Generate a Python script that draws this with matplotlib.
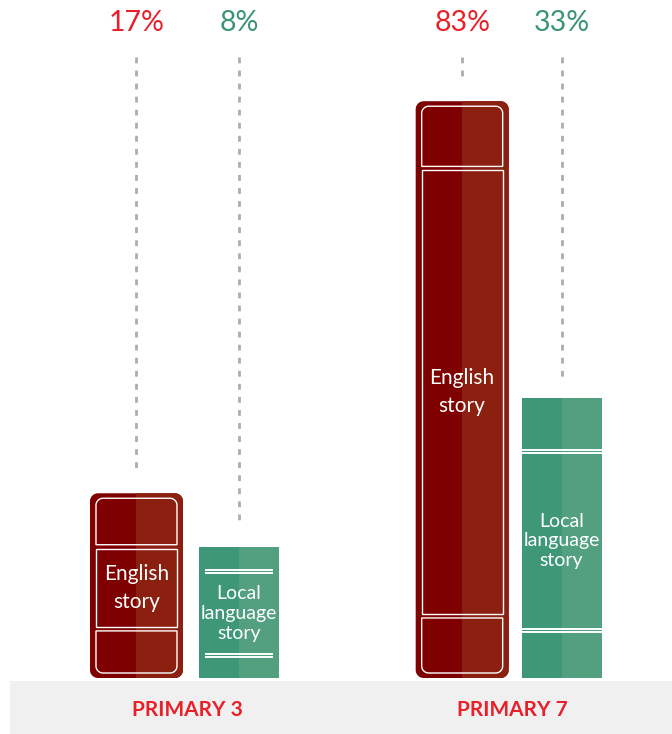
import numpy as np
import matplotlib
matplotlib.use('Agg')
import matplotlib.pyplot as plt
from matplotlib.patches import Polygon, Rectangle

plt.rcParams['font.family'] = ['Lato', 'DejaVu Sans']

# share of pupils reading each story
groups = ['PRIMARY 3', 'PRIMARY 7']
english = [17, 83]
local = [8, 33]
english_text = 'English\nstory'
local_text = 'Local\nlanguage\nstory'

RED_DARK = '#7f0000'
RED_LIGHT = '#8b1f10'
GREEN_DARK = '#3e9878'
GREEN_LIGHT = '#53a081'
RED_TEXT = '#e8202a'
GREEN_TEXT = '#3c9474'

# pixels per data unit in each direction
PX_X = 327.0
PX_Y = 5.94
# every book keeps a cover of this many units on top of its value
COVER = 14.1

W, H = 672, 734
fig = plt.figure(figsize=(W / 100, H / 100), dpi=100)
ax = fig.add_axes([0, 0, 1, 1])
ax.set_xlim(-187.5 / PX_X, (W - 187.5) / PX_X)
ax.set_ylim((678 - H) / PX_Y, 678 / PX_Y)
ax.axis('off')


def rounded_box(x0, y0, w, h, r_px, top=True, bottom=True, **kw):
    rx = r_px / PX_X
    ry = r_px / PX_Y
    x1, y1 = x0 + w, y0 + h
    pts = []
    if bottom:
        a = np.linspace(np.pi, 1.5 * np.pi, 12)
        pts += list(zip(x0 + rx + rx * np.cos(a), y0 + ry + ry * np.sin(a)))
        a = np.linspace(1.5 * np.pi, 2 * np.pi, 12)
        pts += list(zip(x1 - rx + rx * np.cos(a), y0 + ry + ry * np.sin(a)))
    else:
        pts += [(x0, y0), (x1, y0)]
    if top:
        a = np.linspace(0, 0.5 * np.pi, 12)
        pts += list(zip(x1 - rx + rx * np.cos(a), y1 - ry + ry * np.sin(a)))
        a = np.linspace(0.5 * np.pi, np.pi, 12)
        pts += list(zip(x0 + rx + rx * np.cos(a), y1 - ry + ry * np.sin(a)))
    else:
        pts += [(x1, y1), (x0, y1)]
    p = Polygon(pts, closed=True, **kw)
    ax.add_patch(p)
    return p


def leader(x, top):
    # dotted guide from the value label down to the book
    ax.plot([x, x], [(678 - 57) / PX_Y, top + 20 / PX_Y], color='#adadad',
            lw=2.0, linestyle=(0, (2.1, 2.6)), solid_capstyle='butt', zorder=1)


def english_book(x, value):
    w = 93 / PX_X
    h = COVER + value
    hpx = h * PX_Y
    outer = rounded_box(x - w / 2, 0, w, h, 8, facecolor=RED_DARK, edgecolor='none', zorder=2)
    right = Rectangle((x, 0), w / 2, h, facecolor=RED_LIGHT, edgecolor='none', zorder=2)
    ax.add_patch(right)
    right.set_clip_path(outer)

    # white outlined panels: top cap, middle, bottom cap
    ix = 6 / PX_X
    iw = w - 2 * ix
    top_h = (40 + 0.035 * hpx) / PX_Y
    bot_h = (36 + 0.033 * hpx) / PX_Y
    pad = 5 / PX_Y
    gap = 4 / PX_Y
    kw = dict(facecolor='none', edgecolor='white', lw=1.0, zorder=3)
    rounded_box(x - w / 2 + ix, pad, iw, bot_h, 7, top=False, **kw)
    rounded_box(x - w / 2 + ix, h - pad - top_h, iw, top_h, 7, bottom=False, **kw)
    mid0 = pad + bot_h + gap
    mid1 = h - pad - top_h - gap
    rounded_box(x - w / 2 + ix, mid0, iw, mid1 - mid0, 0, top=False, bottom=False, **kw)
    ax.text(x, (mid0 + mid1) / 2, english_text, color='white', fontsize=15,
            ha='center', va='center', linespacing=1.5, zorder=4)
    return h


def local_book(x, value, inset_px):
    w = 80 / PX_X
    h = COVER + value
    ax.add_patch(Rectangle((x - w / 2, 0), w / 2, h, facecolor=GREEN_DARK, edgecolor='none', zorder=2))
    ax.add_patch(Rectangle((x, 0), w / 2, h, facecolor=GREEN_LIGHT, edgecolor='none', zorder=2))

    # double rules near each end of the spine
    ix = inset_px / PX_X
    top_y = h - 0.19 * h
    bot_y = 0.17 * h
    for y in [top_y, bot_y]:
        for d in [-1.8, 1.8]:
            ax.plot([x - w / 2 + ix, x + w / 2 - ix], [y + d / PX_Y] * 2, color='white',
                    lw=1.4, solid_capstyle='butt', zorder=3)
    ax.text(x, (top_y + bot_y) / 2, local_text, color='white', fontsize=14,
            ha='center', va='center', linespacing=1.2, zorder=4)
    return h


# grey strip behind the group names
ax.add_patch(Rectangle((10 / W, 0), 1 - 10 / W, 53 / H, transform=ax.transAxes,
                       facecolor='#f0f0f0', edgecolor='none', zorder=0))

eng_off = [-0.156, -0.16]
loc_off = [0.157, 0.144]
insets = [6, 0]
label_y = (678 - 23) / PX_Y

for i, g in enumerate(groups):
    xe = i + eng_off[i]
    xl = i + loc_off[i]
    he = english_book(xe, english[i])
    hl = local_book(xl, local[i], insets[i])
    leader(xe, he)
    leader(xl, hl)
    ax.text(xe, label_y, '%d%%' % english[i], color=RED_TEXT, fontsize=20.5,
            ha='center', va='center')
    ax.text(xl, label_y, '%d%%' % local[i], color=GREEN_TEXT, fontsize=20.5,
            ha='center', va='center')
    ax.text((xe + xl) / 2, (678 - 710) / PX_Y, g, color=RED_TEXT, fontsize=15,
            fontweight='bold', ha='center', va='center')

fig.savefig('out.png', dpi=100)
